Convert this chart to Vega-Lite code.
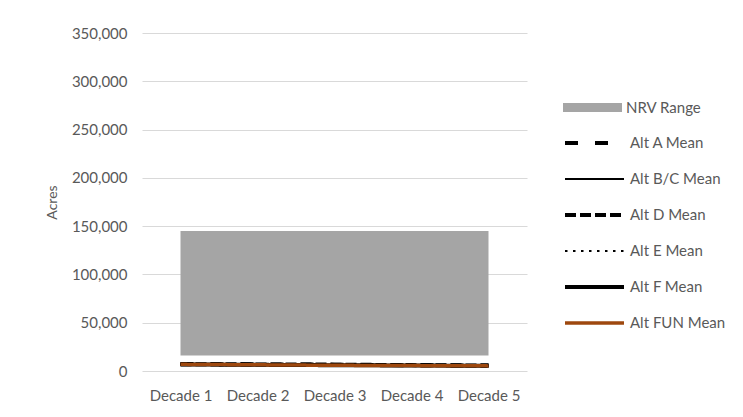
{
  "$schema": "https://vega.github.io/schema/vega-lite/v6.json",
  "width": 385,
  "height": 338,
  "autosize": {"type": "none"},
  "padding": {"left": 142, "top": 33, "right": 216, "bottom": 46},
  "background": "white",
  "config": {
    "font": "Lato",
    "view": {"stroke": null},
    "axis": {
      "labelFont": "Lato",
      "labelColor": "#595959",
      "labelFontSize": 15,
      "titleFont": "Lato",
      "titleColor": "#595959",
      "titleFontWeight": "normal",
      "titleFontSize": 14,
      "gridColor": "#d9d9d9",
      "domainColor": "#d9d9d9",
      "ticks": false
    },
    "legend": {
      "labelFont": "Lato",
      "labelFontSize": 15,
      "labelColor": "#595959",
      "symbolOpacity": 1
    }
  },
  "datasets": {
    "nrv": [
      {"decade": "Decade 1", "range": "NRV Range", "low": 16000, "high": 145000},
      {"decade": "Decade 2", "range": "NRV Range", "low": 16000, "high": 145000},
      {"decade": "Decade 3", "range": "NRV Range", "low": 16000, "high": 145000},
      {"decade": "Decade 4", "range": "NRV Range", "low": 16000, "high": 145000},
      {"decade": "Decade 5", "range": "NRV Range", "low": 16000, "high": 145000}
    ],
    "means": [
      {"decade": "Decade 1", "series": "Alt A Mean", "acres": 7200},
      {"decade": "Decade 2", "series": "Alt A Mean", "acres": 6900},
      {"decade": "Decade 3", "series": "Alt A Mean", "acres": 6500},
      {"decade": "Decade 4", "series": "Alt A Mean", "acres": 6000},
      {"decade": "Decade 5", "series": "Alt A Mean", "acres": 5600},
      {"decade": "Decade 1", "series": "Alt B/C Mean", "acres": 7000},
      {"decade": "Decade 2", "series": "Alt B/C Mean", "acres": 6600},
      {"decade": "Decade 3", "series": "Alt B/C Mean", "acres": 6200},
      {"decade": "Decade 4", "series": "Alt B/C Mean", "acres": 5900},
      {"decade": "Decade 5", "series": "Alt B/C Mean", "acres": 5500},
      {"decade": "Decade 1", "series": "Alt D Mean", "acres": 7100},
      {"decade": "Decade 2", "series": "Alt D Mean", "acres": 6800},
      {"decade": "Decade 3", "series": "Alt D Mean", "acres": 6600},
      {"decade": "Decade 4", "series": "Alt D Mean", "acres": 6100},
      {"decade": "Decade 5", "series": "Alt D Mean", "acres": 5700},
      {"decade": "Decade 1", "series": "Alt E Mean", "acres": 7000},
      {"decade": "Decade 2", "series": "Alt E Mean", "acres": 6700},
      {"decade": "Decade 3", "series": "Alt E Mean", "acres": 6300},
      {"decade": "Decade 4", "series": "Alt E Mean", "acres": 5900},
      {"decade": "Decade 5", "series": "Alt E Mean", "acres": 5500},
      {"decade": "Decade 1", "series": "Alt F Mean", "acres": 6800},
      {"decade": "Decade 2", "series": "Alt F Mean", "acres": 6400},
      {"decade": "Decade 3", "series": "Alt F Mean", "acres": 6000},
      {"decade": "Decade 4", "series": "Alt F Mean", "acres": 5700},
      {"decade": "Decade 5", "series": "Alt F Mean", "acres": 5400},
      {"decade": "Decade 1", "series": "Alt FUN Mean", "acres": 6900},
      {"decade": "Decade 2", "series": "Alt FUN Mean", "acres": 6400},
      {"decade": "Decade 3", "series": "Alt FUN Mean", "acres": 5900},
      {"decade": "Decade 4", "series": "Alt FUN Mean", "acres": 5600},
      {"decade": "Decade 5", "series": "Alt FUN Mean", "acres": 5300}
    ]
  },
  "encoding": {
    "x": {
      "field": "decade",
      "type": "ordinal",
      "scale": {"paddingInner": 0, "paddingOuter": 0},
      "axis": {"title": null, "labelAngle": 0, "labelPadding": 17, "grid": false, "domain": false}
    }
  },
  "layer": [
    {
      "data": {"name": "nrv"},
      "mark": {"type": "area", "opacity": 1},
      "encoding": {
        "y": {
          "field": "high",
          "type": "quantitative",
          "scale": {"domain": [0, 350000], "nice": false},
          "axis": {"title": "Acres", "values": [0, 50000, 100000, 150000, 200000, 250000, 300000, 350000], "format": ",d", "domain": false, "labelPadding": 15, "titlePadding": 12}
        },
        "y2": {"field": "low"},
        "fill": {
          "field": "range",
          "type": "nominal",
          "scale": {"domain": ["NRV Range"], "range": ["#a5a5a5"]},
          "legend": {
            "title": null,
            "orient": "none",
            "legendX": 421,
            "legendY": 45,
            "symbolType": "M-1,-0.15H1V0.15H-1Z",
            "symbolSize": 3480,
            "symbolStrokeWidth": 0,
            "labelOffset": 4
          }
        }
      }
    },
    {
      "data": {"name": "means"},
      "mark": {"type": "line"},
      "encoding": {
        "y": {
          "field": "acres",
          "type": "quantitative",
          "axis": {"title": "Acres", "values": [0, 50000, 100000, 150000, 200000, 250000, 300000, 350000], "format": ",d", "domain": false, "labelPadding": 15, "titlePadding": 12}
        },
        "color": {
          "field": "series",
          "type": "nominal",
          "scale": {
            "domain": ["Alt A Mean", "Alt B/C Mean", "Alt D Mean", "Alt E Mean", "Alt F Mean", "Alt FUN Mean"],
            "range": ["#000000", "#000000", "#000000", "#000000", "#000000", "#9e480e"]
          },
          "legend": {
            "title": null,
            "orient": "none",
            "legendX": 421,
            "legendY": 92,
            "symbolType": "stroke",
            "symbolSize": 3480,
            "labelOffset": 4,
            "clipHeight": 36,
            "rowPadding": 0
          }
        },
        "strokeDash": {
          "field": "series",
          "type": "nominal",
          "scale": {
            "domain": ["Alt A Mean", "Alt B/C Mean", "Alt D Mean", "Alt E Mean", "Alt F Mean", "Alt FUN Mean"],
            "range": [[13, 17], [1, 0], [11, 4], [2.5, 5.5], [1, 0], [1, 0]]
          }
        },
        "strokeWidth": {
          "field": "series",
          "type": "nominal",
          "scale": {
            "type": "ordinal",
            "domain": ["Alt A Mean", "Alt B/C Mean", "Alt D Mean", "Alt E Mean", "Alt F Mean", "Alt FUN Mean"],
            "range": [4, 2, 4, 2, 4, 3.5]
          }
        }
      }
    }
  ]
}
